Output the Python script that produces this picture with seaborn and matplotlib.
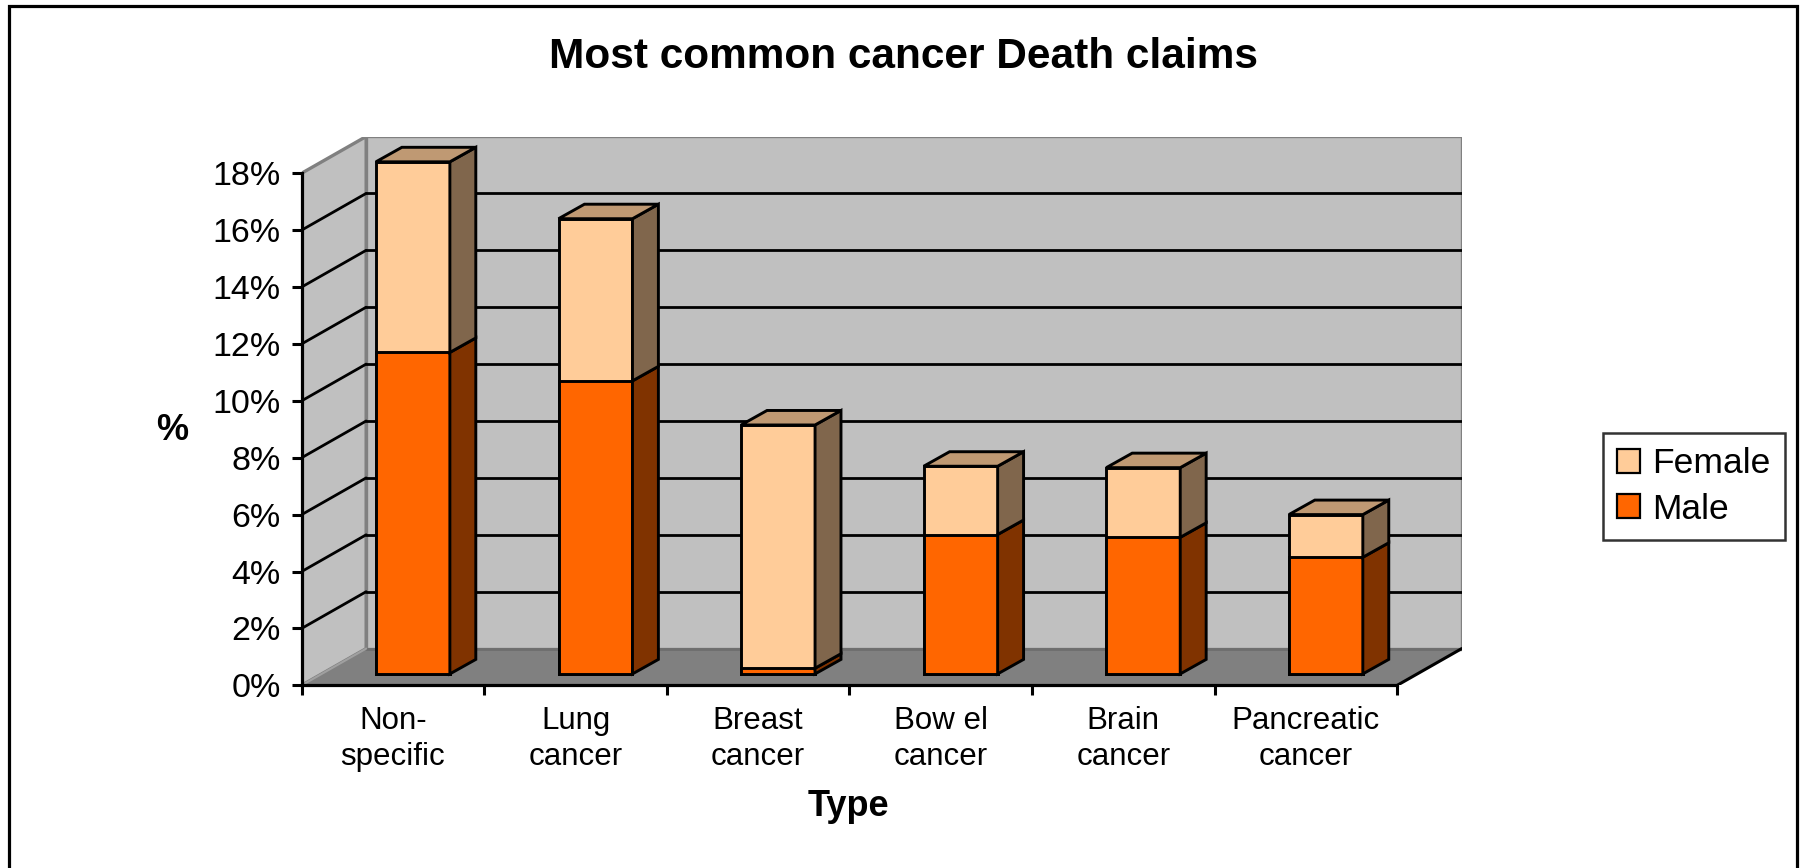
import matplotlib
matplotlib.use("Agg")
import matplotlib.pyplot as plt
import numpy as np
import pandas as pd
import seaborn as sns
from matplotlib.patches import Polygon, Rectangle, Patch

# ---- data -------------------------------------------------------------
categories = ["Non-\nspecific", "Lung\ncancer", "Breast\ncancer",
              "Bow el\ncancer", "Brain\ncancer", "Pancreatic\ncancer"]
male = [11.3, 10.3, 0.2, 4.9, 4.8, 4.1]
female = [6.7, 5.7, 8.55, 2.4, 2.45, 1.5]
y_ticks = list(range(0, 20, 2))
y_tick_labels = [f"{v}%" for v in y_ticks]

# ---- style ------------------------------------------------------------
sns.set_theme(style="white")
plt.rcParams["font.family"] = ["Liberation Sans", "DejaVu Sans"]

MALE_C = "#ff6600"
FEMALE_C = "#ffcc99"
MALE_SIDE = "#803300"
FEMALE_SIDE = "#80664c"
FEMALE_TOP = "#bf9973"
WALL = "#c0c0c0"
FLOOR = "#808080"
WALL_EDGE = "#808080"
EDGE_LW = 2.1
GRID_LW = 2.0

# oblique 3-D projection (x in category units, y in percent units)
SHIFT = 0.109          # bar plane sits this far right of the front axis
DROP = 0.40            # ... and this far above it
DEPTH = (0.353, 1.29)  # full floor depth
BAR_DEPTH = (0.142, 0.51)
BAR_W = 0.405

W, H = 1806, 868
fig = plt.figure(figsize=(W / 100, H / 100), dpi=100)
ax = fig.add_axes([301.7 / W, 1 - 685.3 / H, 1160 / W, 548.8 / H])
ax.set_facecolor("none")

n = len(categories)
x0, x1 = -0.5 - SHIFT, n - 0.5 - SHIFT
y0 = -DROP
ddx, ddy = DEPTH
top = y_ticks[-1]

# walls and floor
ax.add_patch(Rectangle((x0 + ddx, y0 + ddy), x1 - x0, top, fc=WALL,
                       ec=WALL_EDGE, lw=2.4, zorder=0.2))
ax.add_patch(Polygon([(x0, y0), (x0 + ddx, y0 + ddy), (x0 + ddx, y0 + ddy + top),
                      (x0, y0 + top)], closed=True, fc=WALL, ec=WALL_EDGE,
                     lw=2.4, zorder=0.3))
ax.add_patch(Polygon([(x0, y0), (x0 + ddx, y0 + ddy), (x1 + ddx, y0 + ddy),
                      (x1, y0)], closed=True, fc=FLOOR, ec="none", zorder=0.4))
ax.plot([x0 + ddx, x1 + ddx], [y0 + ddy, y0 + ddy], color="#6e6e6e", lw=2, zorder=0.45)
ax.plot([x0, x0 + ddx], [y0, y0 + ddy], color="#a0a0a0", lw=1.5, zorder=0.45)
ax.plot([x1, x1 + ddx], [y0, y0 + ddy], color="black", lw=2.2, zorder=0.5)

# gridlines on back and side walls
for v in y_ticks[1:-1]:
    ax.plot([x0 + ddx, x1 + ddx], [y0 + ddy + v] * 2, color="black", lw=GRID_LW, zorder=0.6)
    ax.plot([x0, x0 + ddx], [y0 + v, y0 + ddy + v], color="black", lw=GRID_LW, zorder=0.6)

# stacked bars: front faces via seaborn
df = pd.DataFrame({"Type": categories, "Male": male, "Female": female})
df["Total"] = df["Male"] + df["Female"]
sns.barplot(data=df, x="Type", y="Total", color=FEMALE_C, saturation=1,
            width=BAR_W, edgecolor="black", linewidth=EDGE_LW, errorbar=None,
            ax=ax, zorder=3)
sns.barplot(data=df, x="Type", y="Male", color=MALE_C, saturation=1,
            width=BAR_W, edgecolor="black", linewidth=EDGE_LW, errorbar=None,
            ax=ax, zorder=3)

# side and top faces built from the bar rectangles
bdx, bdy = BAR_DEPTH
tot_bars = ax.containers[0]
male_bars = ax.containers[1]
for rt, rm in zip(tot_bars, male_bars):
    xl = rt.get_x()
    xr = xl + rt.get_width()
    t = rt.get_height()
    m = rm.get_height()
    ax.add_patch(Polygon([(xr, 0), (xr, m), (xr + bdx, m + bdy), (xr + bdx, bdy)],
                         closed=True, fc=MALE_SIDE, ec="black", lw=EDGE_LW,
                         joinstyle="miter", zorder=3))
    ax.add_patch(Polygon([(xr, m), (xr, t), (xr + bdx, t + bdy), (xr + bdx, m + bdy)],
                         closed=True, fc=FEMALE_SIDE, ec="black", lw=EDGE_LW,
                         joinstyle="miter", zorder=3))
    ax.add_patch(Polygon([(xl, t), (xr, t), (xr + bdx, t + bdy), (xl + bdx, t + bdy)],
                         closed=True, fc=FEMALE_TOP, ec="black", lw=EDGE_LW,
                         joinstyle="miter", zorder=3))

# axes limits, spines, ticks
ax.set_xlim(x0, x1 + ddx)
ax.set_ylim(y0, y0 + ddy + top)
for s in ("top", "right"):
    ax.spines[s].set_visible(False)
for s in ("left", "bottom"):
    ax.spines[s].set_color("black")
    ax.spines[s].set_linewidth(2.3)
    ax.spines[s].set_zorder(4)
ax.spines["left"].set_bounds(y0, y0 + top)
ax.spines["bottom"].set_bounds(x0, x1)

ax.set_yticks([v + y0 for v in y_ticks], labels=y_tick_labels)
ax.tick_params(axis="y", left=True, length=7, width=2.2, color="black",
               direction="out", pad=8, labelsize=24.5, labelcolor="black")

ax.set_xticks([k - 0.5 - SHIFT for k in range(n + 1)], labels=[""] * (n + 1))
ax.set_xticks([k - SHIFT for k in range(n)], labels=categories, minor=True)
ax.tick_params(axis="x", which="major", bottom=True, length=7, width=2.2,
               color="black", direction="out")
ax.tick_params(axis="x", which="minor", bottom=True, length=0, pad=15,
               labelsize=22.5, labelcolor="black")
for lab in ax.get_xticklabels(minor=True):
    lab.set_linespacing(1.25)
ax.grid(False)

# axis titles
ax.set_xlabel("Type", fontsize=26, fontweight="bold", color="black")
ax.xaxis.set_label_coords((848 - 301.7) / 1160, (685.3 - 806) / 548.8)
ax.xaxis.label.set_va("center")
ax.set_ylabel("%", fontsize=26, fontweight="bold", color="black", rotation=0)
ax.yaxis.set_label_coords((172 - 301.7) / 1160, (685.3 - 431) / 548.8)
ax.yaxis.label.set_va("center")
ax.yaxis.label.set_ha("center")

fig.suptitle("Most common cancer Death claims", x=904 / W, y=1 - 57 / H,
             va="center", fontsize=30.5, fontweight="bold", color="black")

# legend
handles = [Patch(fc=FEMALE_C, ec="black", lw=1.6, label="Female"),
           Patch(fc=MALE_C, ec="black", lw=1.6, label="Male")]
leg = fig.legend(handles=handles, loc="upper left",
                 bbox_to_anchor=(1603 / W, 1 - 433 / H), borderaxespad=0,
                 frameon=True, fancybox=False, edgecolor="black", fontsize=25.5,
                 handlelength=0.65, handleheight=0.65, handletextpad=0.35,
                 borderpad=0.4, labelspacing=0.35)
leg.get_frame().set_linewidth(1.8)
for t in leg.get_texts():
    t.set_color("black")

# chart area border
fig.add_artist(Rectangle((8.5 / W, -0.1), (1797.5 - 8.5) / W, 1.1 - 6.5 / H,
                         transform=fig.transFigure, fill=False, ec="black",
                         lw=2.3, clip_on=False))

fig.savefig("out.png", dpi=100)
